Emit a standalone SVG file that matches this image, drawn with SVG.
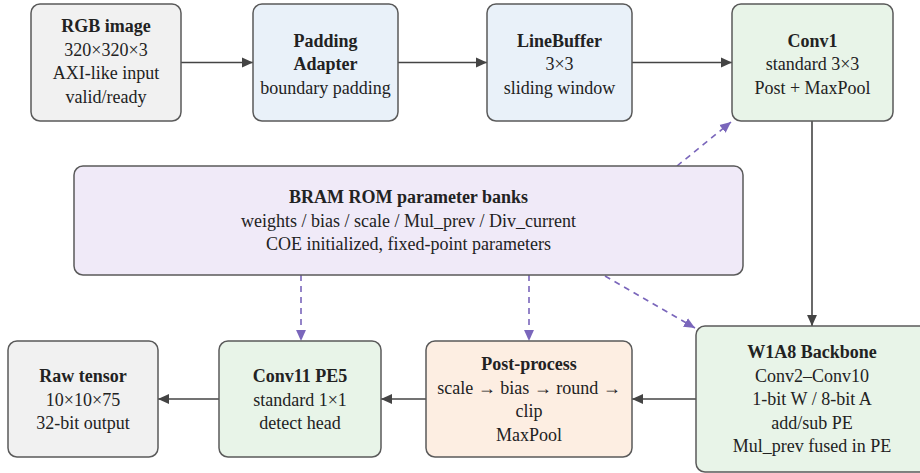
<svg xmlns="http://www.w3.org/2000/svg" width="920" height="473" viewBox="0 0 920 473">
  <style>
    .box { stroke: #5a5a5a; stroke-width: 1.5; }
    .gray { fill: #f1f1f1; }
    .blue { fill: #e9f1f9; }
    .green { fill: #e8f4e8; }
    .violet { fill: #f0eaf8; }
    .peach { fill: #fdeee2; }
    text { font-family: "Liberation Serif", "Times New Roman", serif; font-size: 18px; fill: #222; text-anchor: middle; }
    .t { font-weight: bold; }
    .flow { stroke: #444; stroke-width: 1.6; fill: none; marker-end: url(#ah); }
    .param { stroke: #7a66bb; stroke-width: 1.6; fill: none; stroke-dasharray: 6 5; marker-end: url(#ahp); }
  </style>
  <defs>
    <marker id="ah" viewBox="0 0 10 10" refX="10" refY="5" markerWidth="11" markerHeight="11" markerUnits="userSpaceOnUse" orient="auto">
      <path d="M0,0.5 L10,5 L0,9.5 z" fill="#444"/>
    </marker>
    <marker id="ahp" viewBox="0 0 10 10" refX="10" refY="5" markerWidth="11" markerHeight="11" markerUnits="userSpaceOnUse" orient="auto">
      <path d="M0,0.5 L10,5 L0,9.5 z" fill="#7a66bb"/>
    </marker>
  </defs>

  <!-- connectors -->
  <g id="connectors">
    <path class="flow" d="M181,62.5 H253"/>
    <path class="flow" d="M398,62.5 H487"/>
    <path class="flow" d="M632,62.5 H732"/>
    <path class="flow" d="M812,121 V326"/>
    <path class="flow" d="M696,399 H632"/>
    <path class="flow" d="M426,399 H381"/>
    <path class="flow" d="M219,399 H158"/>
    <path class="param" d="M677,166 L731,122"/>
    <path class="param" d="M301,275 V341"/>
    <path class="param" d="M529,275 V341"/>
    <path class="param" d="M605,276 L695,328"/>
  </g>

  <g id="rgb-image">
    <rect class="box gray" x="31" y="4" width="150" height="117" rx="9"/>
    <text class="t" x="106" y="32">RGB image</text>
    <text x="106" y="55.5">320×320×3</text>
    <text x="106" y="79">AXI-like input</text>
    <text x="106" y="102.5">valid/ready</text>
  </g>

  <g id="padding-adapter">
    <rect class="box blue" x="253" y="4" width="145" height="117" rx="9"/>
    <text class="t" x="325.5" y="46.5">Padding</text>
    <text class="t" x="325.5" y="70">Adapter</text>
    <text x="325.5" y="93.5">boundary padding</text>
  </g>

  <g id="line-buffer">
    <rect class="box blue" x="487" y="4" width="145" height="117" rx="9"/>
    <text class="t" x="559.5" y="46.5">LineBuffer</text>
    <text x="559.5" y="70">3×3</text>
    <text x="559.5" y="93.5">sliding window</text>
  </g>

  <g id="conv1">
    <rect class="box green" x="732" y="4" width="161" height="117" rx="9"/>
    <text class="t" x="812.5" y="46.5">Conv1</text>
    <text x="812.5" y="70">standard 3×3</text>
    <text x="812.5" y="93.5">Post + MaxPool</text>
  </g>

  <g id="bram-rom">
    <rect class="box violet" x="74" y="166" width="669" height="109" rx="9"/>
    <text class="t" x="408.5" y="203">BRAM ROM parameter banks</text>
    <text x="408.5" y="226.5">weights / bias / scale / Mul_prev / Div_current</text>
    <text x="408.5" y="250">COE initialized, fixed-point parameters</text>
  </g>

  <g id="w1a8-backbone">
    <rect class="box green" x="696" y="326" width="232" height="146" rx="9"/>
    <text class="t" x="812" y="358">W1A8 Backbone</text>
    <text x="812" y="381.5">Conv2–Conv10</text>
    <text x="812" y="405">1-bit W / 8-bit A</text>
    <text x="812" y="428.5">add/sub PE</text>
    <text x="812" y="452">Mul_prev fused in PE</text>
  </g>

  <g id="post-process">
    <rect class="box peach" x="426" y="341" width="206" height="116" rx="9"/>
    <text class="t" x="529" y="370">Post-process</text>
    <text x="529" y="393.5">scale → bias → round →</text>
    <text x="529" y="417">clip</text>
    <text x="529" y="440.5">MaxPool</text>
  </g>

  <g id="conv11-pe5">
    <rect class="box green" x="219" y="341" width="162" height="116" rx="9"/>
    <text class="t" x="300" y="382">Conv11 PE5</text>
    <text x="300" y="405.5">standard 1×1</text>
    <text x="300" y="429">detect head</text>
  </g>

  <g id="raw-tensor">
    <rect class="box gray" x="8" y="341" width="150" height="116" rx="9"/>
    <text class="t" x="83" y="382">Raw tensor</text>
    <text x="83" y="405.5">10×10×75</text>
    <text x="83" y="429">32-bit output</text>
  </g>
</svg>
